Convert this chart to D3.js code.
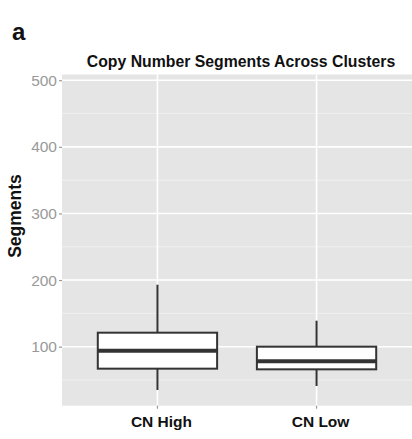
<!DOCTYPE html>
<html>
<head>
<meta charset="utf-8">
<script src="https://cdn.jsdelivr.net/npm/d3@7"></script>
<style>
  html, body { margin: 0; padding: 0; background: #fff; }
  svg { display: block; font-family: "Liberation Sans", Arial, Helvetica, sans-serif; }
</style>
</head>
<body>
<svg id="chart" width="412" height="439"></svg>
<script>
// Box summaries of copy-number segment counts per cluster
const clusters = ["CN High", "CN Low"];
const lowerWhisker = [35, 41];
const q1 = [67, 66];
const median = [94, 78];
const q3 = [121, 100];
const upperWhisker = [193, 139];
// Range of the full data (outliers included) used for the y scale
const dataExtent = [34, 486];
const yTicks = [100, 200, 300, 400, 500];
const yMinorTicks = [50, 150, 250, 350, 450];

const svg = d3.select("#chart");
const panel = { left: 62, right: 412, top: 74.5, bottom: 405.7 };

const span = dataExtent[1] - dataExtent[0];
const y = d3.scaleLinear()
  .domain([dataExtent[0] - 0.05 * span, dataExtent[1] + 0.05 * span])
  .range([panel.bottom, panel.top]);

// discrete axis: categories at 1..n with 0.6 expansion on each side
const x = d3.scaleLinear()
  .domain([0.4, clusters.length + 0.6])
  .range([panel.left, panel.right]);
const xPos = c => x(clusters.indexOf(c) + 1);
const unit = x(2) - x(1);

// panel background
svg.append("rect")
  .attr("x", panel.left).attr("y", panel.top)
  .attr("width", panel.right - panel.left)
  .attr("height", panel.bottom - panel.top)
  .attr("fill", "#e5e5e5");

// grid
const grid = svg.append("g");
grid.selectAll("line.minor").data(yMinorTicks).join("line")
  .attr("x1", panel.left).attr("x2", panel.right)
  .attr("y1", d => y(d)).attr("y2", d => y(d))
  .attr("stroke", "#f2f2f2").attr("stroke-width", 0.8);
grid.selectAll("line.major").data(yTicks).join("line")
  .attr("x1", panel.left).attr("x2", panel.right)
  .attr("y1", d => y(d)).attr("y2", d => y(d))
  .attr("stroke", "#ffffff").attr("stroke-width", 1.6);
grid.selectAll("line.vmajor").data(clusters).join("line")
  .attr("x1", d => xPos(d)).attr("x2", d => xPos(d))
  .attr("y1", panel.top).attr("y2", panel.bottom)
  .attr("stroke", "#ffffff").attr("stroke-width", 1.6);

// y axis ticks and labels
const yAxis = svg.append("g")
  .attr("transform", `translate(${panel.left},0)`)
  .call(d3.axisLeft(y).tickValues(yTicks).tickSize(3).tickPadding(2));
yAxis.select(".domain").remove();
yAxis.selectAll(".tick line").attr("stroke", "#999999").attr("stroke-width", 1.2);
yAxis.selectAll(".tick text")
  .attr("fill", "#999999")
  .attr("font-size", 15.5)
  .attr("font-family", "Liberation Sans, Arial, sans-serif");

// x axis ticks and labels
const xAxis = svg.append("g")
  .attr("transform", `translate(0,${panel.bottom})`);
xAxis.selectAll("line").data(clusters).join("line")
  .attr("x1", d => xPos(d)).attr("x2", d => xPos(d))
  .attr("y1", 0).attr("y2", 3)
  .attr("stroke", "#999999").attr("stroke-width", 1.2);
xAxis.selectAll("text").data(clusters).join("text")
  .attr("x", d => xPos(d) + 4).attr("y", 21)
  .attr("text-anchor", "middle")
  .attr("font-size", 15.5).attr("font-weight", "bold")
  .attr("fill", "#111")
  .text(d => d);

// boxes
const boxW = unit * 0.75;
const boxes = svg.append("g");
clusters.forEach((c, i) => {
  const cx = xPos(c);
  const g = boxes.append("g");
  g.append("line")
    .attr("x1", cx).attr("x2", cx)
    .attr("y1", y(upperWhisker[i])).attr("y2", y(q3[i]))
    .attr("stroke", "#333").attr("stroke-width", 2);
  g.append("line")
    .attr("x1", cx).attr("x2", cx)
    .attr("y1", y(q1[i])).attr("y2", y(lowerWhisker[i]))
    .attr("stroke", "#333").attr("stroke-width", 2);
  g.append("rect")
    .attr("x", cx - boxW / 2).attr("y", y(q3[i]))
    .attr("width", boxW).attr("height", y(q1[i]) - y(q3[i]))
    .attr("fill", "#ffffff").attr("stroke", "#333").attr("stroke-width", 2);
  g.append("line")
    .attr("x1", cx - boxW / 2).attr("x2", cx + boxW / 2)
    .attr("y1", y(median[i])).attr("y2", y(median[i]))
    .attr("stroke", "#333").attr("stroke-width", 4);
});

// y axis title
svg.append("text")
  .attr("transform", "translate(21,216) rotate(-90)")
  .attr("text-anchor", "middle")
  .attr("font-size", 17.5).attr("font-weight", "bold")
  .attr("fill", "#111")
  .text("Segments");

// plot title
svg.append("text")
  .attr("x", 241).attr("y", 67)
  .attr("text-anchor", "middle")
  .attr("font-size", 15.8).attr("font-weight", "bold")
  .attr("fill", "#111")
  .text("Copy Number Segments Across Clusters");

// panel tag
svg.append("text")
  .attr("x", 12).attr("y", 40)
  .attr("font-size", 24).attr("font-weight", "bold")
  .attr("fill", "#111")
  .text("a");
</script>
</body>
</html>
